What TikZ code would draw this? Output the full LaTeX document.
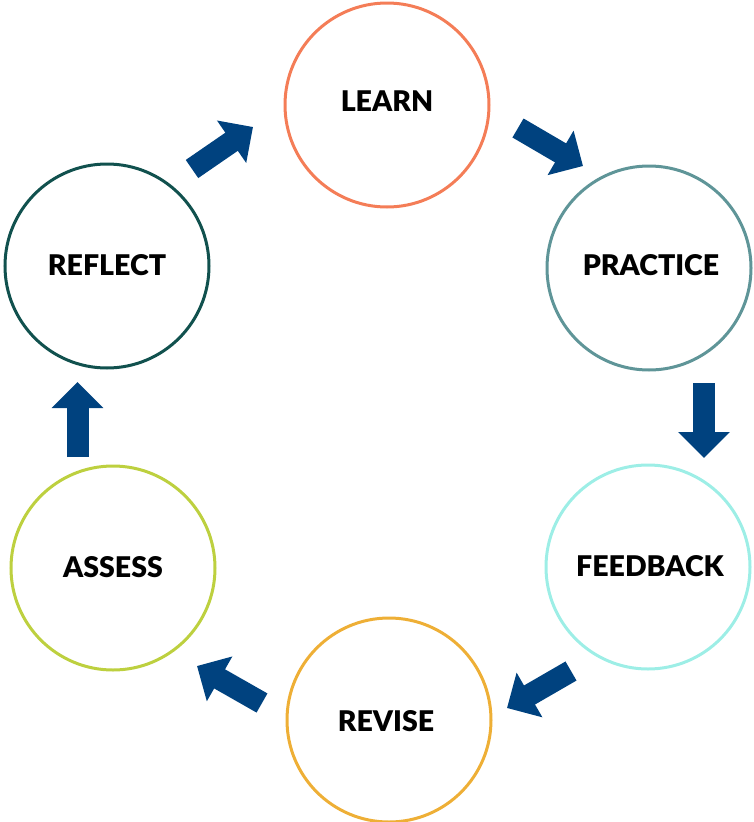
\documentclass[tikz,border=0pt]{standalone}
\usepackage{fontspec}
\setmainfont{Lato}[BoldFont={Lato Black}]
\usetikzlibrary{arrows.meta}
\definecolor{clearn}{HTML}{F47D57}
\definecolor{cpractice}{HTML}{5F9598}
\definecolor{cfeedback}{HTML}{9DEEE6}
\definecolor{crevise}{HTML}{EEAF36}
\definecolor{cassess}{HTML}{BDD03F}
\definecolor{creflect}{HTML}{11514E}
\definecolor{carrow}{HTML}{00427F}
\begin{document}
\begin{tikzpicture}[x=1pt,y=-1pt,
  stage/.style={circle, draw=#1, line width=3pt, minimum size=204pt, inner sep=0pt,
    font=\fontsize{28.5}{30}\selectfont\bfseries},
  lbl/.style={font=\fontsize{28.5}{30}\selectfont\bfseries, inner sep=0pt},
  blockarrow/.style={draw=carrow, line width=22pt,
    -{Triangle[width=50pt,length=26pt]}}]
\useasboundingbox (0,0) rectangle (754,822);
\node[stage=clearn] (learn) at (387,105) {};
\node[stage=cpractice] (practice) at (649,268) {};
\node[stage=cfeedback] (feedback) at (648,567) {};
\node[stage=crevise] (revise) at (389,720) {};
\node[stage=cassess] (assess) at (113,568) {};
\node[stage=creflect] (reflect) at (107,266) {};
\node[lbl] (tlearn) at (387,101.5) {LEARN};
\node[lbl] (tpractice) at (651,265) {PRACTICE};
\node[lbl] (tfeedback) at (650,566) {FEEDBACK};
\node[lbl] (trevise) at (386,721) {REVISE};
\node[lbl] (tassess) at (113,567) {ASSESS};
\node[lbl] (treflect) at (107,265) {REFLECT};
% arrow end points
\coordinate (a1s) at (518,128); \coordinate (a1e) at (583,166);
\coordinate (a2s) at (704,383); \coordinate (a2e) at (704,458);
\coordinate (a3s) at (571,671); \coordinate (a3e) at (507,708);
\coordinate (a4s) at (262,703); \coordinate (a4e) at (197,666);
\coordinate (a5s) at (77.5,457); \coordinate (a5e) at (77.5,382);
\coordinate (a6s) at (192,169); \coordinate (a6e) at (253,127);
\draw[blockarrow] (a1s) -- (a1e);
\draw[blockarrow] (a2s) -- (a2e);
\draw[blockarrow] (a3s) -- (a3e);
\draw[blockarrow] (a4s) -- (a4e);
\draw[blockarrow] (a5s) -- (a5e);
\draw[blockarrow] (a6s) -- (a6e);
\end{tikzpicture}
\end{document}
